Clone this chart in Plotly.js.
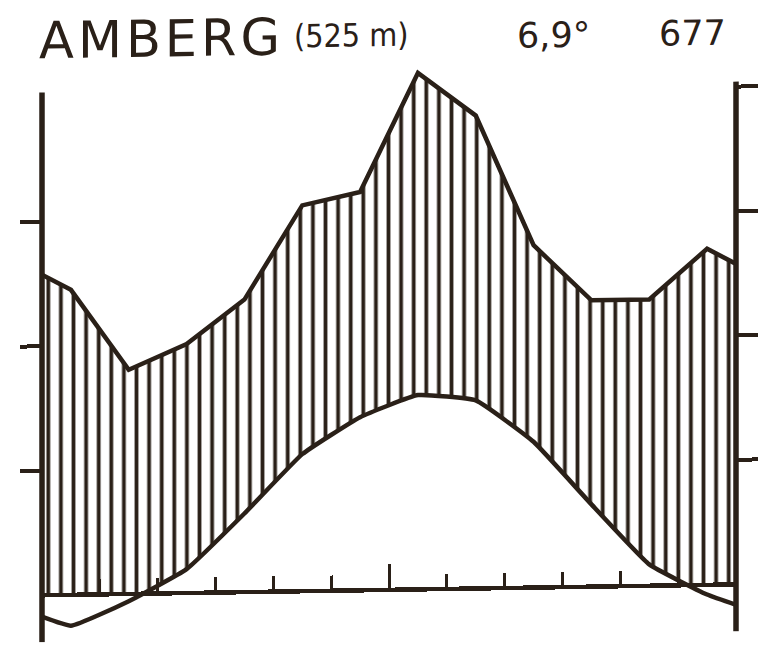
<!DOCTYPE html>
<html>
<head>
<meta charset="utf-8">
<script src="https://cdn.plot.ly/plotly-3.0.1.min.js"></script>
<style>
  html, body { margin: 0; padding: 0; background: #ffffff; }
  #chart { width: 762px; height: 645px; transform: skewY(-0.9deg); transform-origin: 381px 322px; }
</style>
</head>
<body>
<div id="chart"></div>
<script>
// ---- data ----
const months = ['Jan', 'Feb', 'Mar', 'Apr', 'May', 'Jun', 'Jul', 'Aug', 'Sep', 'Oct', 'Nov', 'Dec'];
const temperatureC = [-2.5, -0.6, 1.9, 6.3, 11.0, 13.9, 15.6, 15.1, 11.7, 6.6, 1.7, -0.8];
const precipitationMm = [49, 36, 40, 47, 62, 64, 83, 76, 55, 46, 46, 54];
const stationName = 'AMBERG';
const stationElevation = '(525 m)';
const annualMeanTemp = '6,9°';
const annualPrecip = '677';
const tempTickValues = [10, 20, 30];
const precipTickValues = [20, 40, 60, 80];

// ---- styling / layout ----
const INK = '#2a2018';
const Y_MIN = -3.8, Y_MAX = 43.39, AXIS_TOP = 40.4;   // temperature axis (°C)
const MM_PER_DEG = 2;                                   // Walter-Lieth: 10 °C = 20 mm
const M = { l: 42, r: 26, t: 50, b: 8 };
const W = 762, H = 645;
const pxX = px => (px - M.l) / (W - M.l - M.r);
const pxY = py => (H - M.b - py) / (H - M.t - M.b);

// month positions, with the cycle wrapped so the curves run to the frame edges
const monthPos = months.map((m, i) => i + 1);
const xs = [0, ...monthPos, monthPos.length + 1];
const wrap = arr => [arr[arr.length - 1], ...arr, arr[0]];
const monthBounds = monthPos.slice(0, -1).map(p => p + 0.5);

const tempLine = { shape: 'spline', smoothing: 0.35 };

const traces = [
  { // humid period hatching (precipitation on the temperature scale)
    x: xs, y: wrap(precipitationMm).map(v => v / MM_PER_DEG), yaxis: 'y',
    mode: 'lines', line: { width: 0, color: INK }, fill: 'tozeroy',
    fillcolor: 'rgba(255,255,255,0)',
    fillpattern: { shape: '|', size: 12.6, solidity: 0.3, fgcolor: INK, bgcolor: 'rgba(255,255,255,0)', fillmode: 'replace' },
    hoverinfo: 'skip'
  },
  { // clear the area beneath the temperature curve
    x: xs, y: wrap(temperatureC), yaxis: 'y',
    mode: 'lines', line: Object.assign({ width: 0, color: '#ffffff' }, tempLine),
    fill: 'tozeroy', fillcolor: '#ffffff', hoverinfo: 'skip'
  },
  { // temperature curve
    x: xs, y: wrap(temperatureC), yaxis: 'y', name: 'Temperatur',
    mode: 'lines', line: Object.assign({ width: 4.5, color: INK }, tempLine)
  },
  { // precipitation curve
    x: xs, y: wrap(precipitationMm), yaxis: 'y2', name: 'Niederschlag',
    mode: 'lines', line: { width: 4.5, color: INK }
  }
];

const layout = {
  width: W, height: H, margin: M,
  paper_bgcolor: '#ffffff', plot_bgcolor: '#ffffff',
  showlegend: false,
  font: { family: 'DejaVu Sans', color: INK },
  xaxis: {
    range: [0.5, 12.5], anchor: 'free', position: (0 - Y_MIN) / (Y_MAX - Y_MIN),
    showline: true, linecolor: INK, linewidth: 4.5,
    showgrid: false, zeroline: false, showticklabels: false,
    ticks: 'inside', tickvals: [6.5], ticklen: 24, tickwidth: 3, tickcolor: INK,
    minor: { tickvals: monthBounds, ticks: 'inside', ticklen: 13, tickwidth: 3, tickcolor: INK, showgrid: false },
    layer: 'above traces', fixedrange: true
  },
  yaxis: {
    range: [Y_MIN, Y_MAX], showline: false, showgrid: false, zeroline: false,
    ticks: 'outside', tickvals: tempTickValues, ticklen: 21, tickwidth: 4, tickcolor: INK,
    showticklabels: false, fixedrange: true
  },
  yaxis2: {
    overlaying: 'y', side: 'right', range: [Y_MIN * MM_PER_DEG, Y_MAX * MM_PER_DEG],
    showline: false, showgrid: false, zeroline: false,
    ticks: 'outside', tickvals: precipTickValues, ticklen: 21, tickwidth: 4, tickcolor: INK,
    showticklabels: false, fixedrange: true
  },
  shapes: [
    { type: 'line', xref: 'paper', yref: 'y', x0: 0, x1: 0, y0: Y_MIN, y1: AXIS_TOP, line: { color: INK, width: 5.5 }, layer: 'above' },
    { type: 'line', xref: 'paper', yref: 'y', x0: 1, x1: 1, y0: Y_MIN, y1: AXIS_TOP, line: { color: INK, width: 5.5 }, layer: 'above' }
  ],
  annotations: [
    { text: '<span style="letter-spacing:4px">' + stationName + '</span>', xref: 'paper', yref: 'paper',
      x: pxX(37), y: pxY(35), xanchor: 'left', yanchor: 'middle', showarrow: false,
      font: { family: 'DejaVu Sans', size: 51, color: INK } },
    { text: stationElevation, xref: 'paper', yref: 'paper',
      x: pxX(292), y: pxY(35), xanchor: 'left', yanchor: 'middle', showarrow: false,
      font: { family: 'DejaVu Sans Condensed, DejaVu Sans', size: 32, color: INK } },
    { text: annualMeanTemp, xref: 'paper', yref: 'paper',
      x: pxX(515), y: pxY(38), xanchor: 'left', yanchor: 'middle', showarrow: false,
      font: { family: 'DejaVu Sans', size: 35, color: INK } },
    { text: annualPrecip, xref: 'paper', yref: 'paper',
      x: pxX(657), y: pxY(38), xanchor: 'left', yanchor: 'middle', showarrow: false,
      font: { family: 'DejaVu Sans', size: 35, color: INK } }
  ]
};

Plotly.newPlot('chart', traces, layout, { staticPlot: true, displayModeBar: false });
</script>
</body>
</html>
